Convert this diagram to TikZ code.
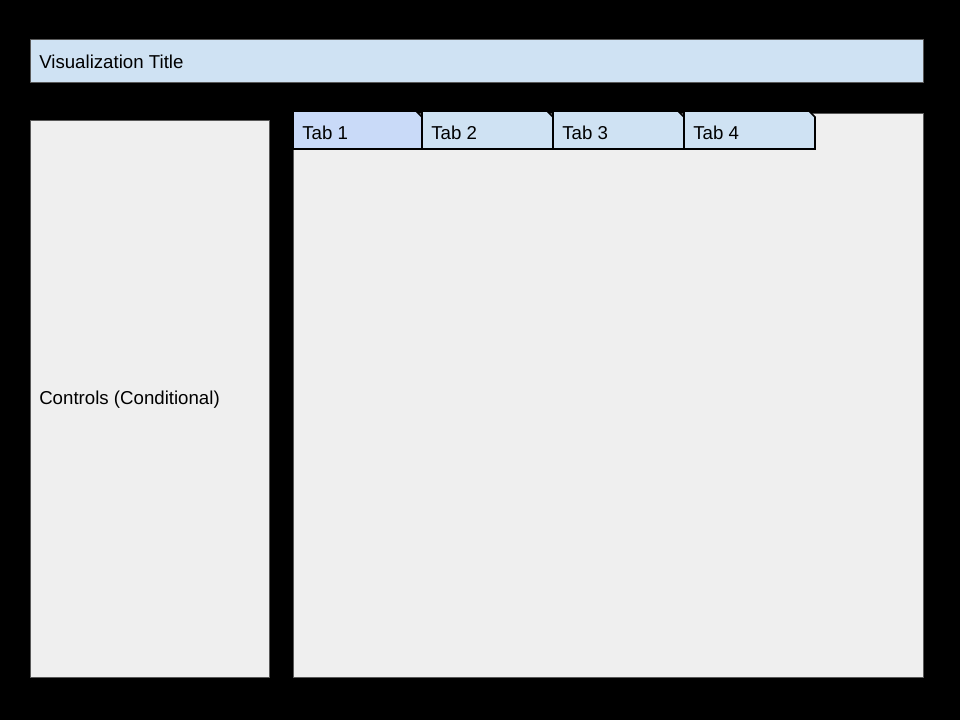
\documentclass[tikz,border=0pt]{standalone}
\usepackage{fontspec}
\setmainfont{Liberation Sans}
\definecolor{titlefill}{HTML}{CFE2F3}
\definecolor{tabsel}{HTML}{C9DAF8}
\definecolor{panelfill}{HTML}{EFEFEF}
\definecolor{boxline}{HTML}{595959}
\begin{document}
\begin{tikzpicture}[x=0.75pt,y=-0.75pt,
  panel/.style={draw=boxline,line width=0.6pt,fill=panelfill,anchor=north west,inner sep=0pt},
  label/.style={anchor=west,font=\fontsize{14pt}{16pt}\selectfont,text=black,inner sep=0pt},
  tabbox/.style={draw=black,line width=1.2pt,fill=titlefill}]
\fill[black] (0,0) rectangle (960,720);
\useasboundingbox (0,0) rectangle (960,720);
% title
\node[panel,fill=titlefill,minimum width=893*0.75pt,minimum height=43*0.75pt] (title) at (30,39) {};
\node[label] (titletext) at (39,62) {Visualization Title};
% controls
\node[panel,minimum width=239*0.75pt,minimum height=557*0.75pt] (controls) at (30,120) {};
\node[label] (controlstext) at (39,400) {Controls (Conditional)};
% main panel
\node[panel,minimum width=630*0.75pt,minimum height=564*0.75pt] (main) at (293,113) {};
% tabs
\foreach \i/\a/\b/\c in {1/293/422/tabsel,2/422/553/titlefill,3/553/684/titlefill,4/684/815/titlefill}{
  \draw[tabbox,fill=\c] (\a,149) -- (\a,111) -- (\b-6,111) -- (\b,117) -- (\b,149) -- cycle;
  \node[label] (tab\i) at (\a+9,133) {Tab \i};
}
\end{tikzpicture}
\end{document}
